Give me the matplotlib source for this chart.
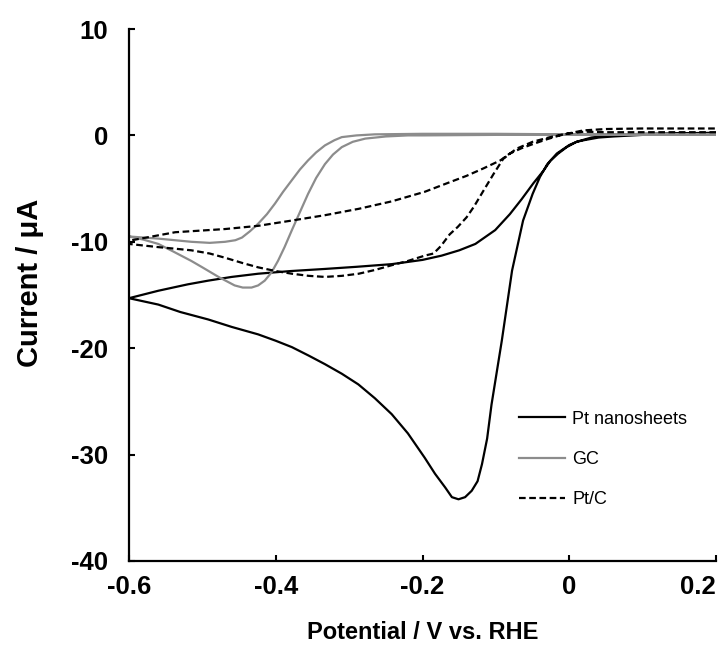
import matplotlib
matplotlib.use("Agg")
import matplotlib.pyplot as plt

plt.rcParams['font.family'] = ['Liberation Sans', 'DejaVu Sans']
plt.rcParams['axes.unicode_minus'] = False

# Pt nanosheets: cathodic sweep (0.2 -> -0.6) then anodic sweep back
pt_ns_v = [0.2, 0.15, 0.1, 0.06, 0.04, 0.02, 0.01, 0.0, -0.017, -0.03, -0.04, -0.05,
           -0.063, -0.078, -0.092, -0.106, -0.112, -0.119, -0.125, -0.133, -0.142,
           -0.151, -0.16, -0.169, -0.183, -0.197, -0.22, -0.242, -0.265, -0.2875,
           -0.31, -0.333, -0.355, -0.378, -0.40, -0.424, -0.46, -0.492, -0.53, -0.56,
           -0.6,
           -0.56, -0.52, -0.492, -0.46, -0.424, -0.38, -0.333, -0.29, -0.242, -0.2,
           -0.174, -0.15, -0.128, -0.101, -0.081, -0.065, -0.049, -0.035, -0.026,
           -0.015, -0.0035, 0.01, 0.03, 0.06, 0.1, 0.15, 0.2]
pt_ns_i = [0.2, 0.15, 0.05, -0.1, -0.2, -0.45, -0.6, -0.9, -1.7, -2.7, -3.9, -5.5,
           -8.0, -12.7, -19.3, -25.3, -28.5, -30.9, -32.5, -33.4, -34.0,
           -34.2, -34.0, -33.1, -31.8, -30.3, -28.0, -26.2, -24.7, -23.4,
           -22.4, -21.5, -20.7, -19.9, -19.3, -18.7, -18.0, -17.3, -16.6, -15.9,
           -15.3,
           -14.6, -14.0, -13.65, -13.3, -13.0, -12.75, -12.55, -12.35, -12.1, -11.7,
           -11.3, -10.8, -10.2, -8.9, -7.4, -6.0, -4.5, -3.3, -2.4,
           -1.7, -1.1, -0.6, -0.2, 0.05, 0.15, 0.2, 0.25]

# GC
gc_v = [0.2, 0.0, -0.1, -0.2, -0.22, -0.25, -0.278, -0.295, -0.31, -0.322, -0.333,
        -0.345, -0.356, -0.367, -0.378, -0.388, -0.397, -0.406, -0.415, -0.424,
        -0.433, -0.445, -0.456, -0.478, -0.5, -0.515, -0.54, -0.56, -0.58, -0.6,
        -0.56, -0.515, -0.49, -0.469, -0.455, -0.446, -0.435, -0.424, -0.412,
        -0.401, -0.39, -0.378, -0.367, -0.356, -0.345, -0.333, -0.32, -0.31,
        -0.29, -0.265, -0.2, -0.1, 0.0, 0.1, 0.2]
gc_i = [0.05, 0.05, 0.05, 0.0, 0.0, -0.1, -0.3, -0.6, -1.1, -1.8, -2.7,
        -4.0, -5.5, -7.2, -8.9, -10.5, -11.8, -12.9, -13.65, -14.1,
        -14.3, -14.3, -14.1, -13.3, -12.4, -11.8, -10.9, -10.2, -9.8, -9.5,
        -9.7, -10.0, -10.1, -10.0, -9.85, -9.6, -9.0, -8.3, -7.4,
        -6.4, -5.3, -4.2, -3.2, -2.35, -1.6, -0.94, -0.45, -0.16,
        0.0, 0.1, 0.15, 0.15, 0.1, 0.1, 0.1]

# Pt/C
ptc_v = [0.2, 0.15, 0.1, 0.05, 0.02, -0.0035, -0.026, -0.05, -0.072, -0.09, -0.103,
         -0.117, -0.13, -0.14, -0.152, -0.163, -0.175, -0.185, -0.197, -0.22,
         -0.242, -0.265, -0.287, -0.31, -0.333, -0.355, -0.378, -0.40, -0.424,
         -0.445, -0.469, -0.49, -0.515, -0.537, -0.56, -0.58, -0.6,
         -0.6, -0.537, -0.469, -0.424, -0.378, -0.333, -0.287, -0.242, -0.197,
         -0.163, -0.14, -0.117, -0.094, -0.081, -0.065, -0.049, -0.03, -0.013,
         0.0, 0.019, 0.05, 0.1, 0.15, 0.2]
ptc_i = [0.3, 0.3, 0.3, 0.3, 0.35, 0.16, -0.16, -0.6, -1.25, -2.2, -3.6,
         -5.2, -6.7, -7.7, -8.6, -9.3, -10.4, -11.1, -11.3, -11.8,
         -12.2, -12.65, -13.0, -13.2, -13.3, -13.2, -13.0, -12.75, -12.4,
         -12.0, -11.5, -11.1, -10.8, -10.65, -10.5, -10.35, -10.2,
         -9.9, -9.1, -8.8, -8.5, -8.0, -7.5, -6.9, -6.2, -5.3,
         -4.4, -3.8, -3.1, -2.35, -1.7, -1.2, -0.8, -0.35, 0.0,
         0.2, 0.47, 0.6, 0.65, 0.65, 0.65]

x_ticks = [-0.6, -0.4, -0.2, 0, 0.2]
x_tick_labels = ['-0.6', '-0.4', '-0.2', '0', '0.2']
y_ticks = [-40, -30, -20, -10, 0, 10]

fig = plt.figure(figsize=(7.27, 6.49), dpi=100)
ax = fig.add_axes([0.1774, 0.1356, 0.8076, 0.8197])

ax.plot(pt_ns_v, pt_ns_i, color='black', lw=1.6, label='Pt nanosheets')
ax.plot(gc_v, gc_i, color='#8c8c8c', lw=1.6, label='GC')
ax.plot(ptc_v, ptc_i, color='black', lw=1.6, ls=(0, (3, 1.6)), label='Pt/C')

ax.set_xlim(-0.6, 0.2)
ax.set_ylim(-40, 10)
ax.set_xticks(x_ticks)
ax.set_xticklabels(x_tick_labels)
ax.set_yticks(y_ticks)

for s in ['top', 'right']:
    ax.spines[s].set_visible(False)
for s in ['left', 'bottom']:
    ax.spines[s].set_linewidth(1.6)

ax.tick_params(axis='both', direction='in', length=4, width=1.5, labelsize=18.5)
ax.tick_params(axis='y', pad=15)
ax.tick_params(axis='x', pad=10)
for lab in ax.get_xticklabels() + ax.get_yticklabels():
    lab.set_fontweight('bold')
ax.get_xticklabels()[-1].set_horizontalalignment('right')

ax.set_xlabel('Potential / V vs. RHE', fontsize=17, fontweight='bold', labelpad=16)
ax.set_ylabel('Current / μA', fontsize=21, fontweight='bold')
ax.yaxis.set_label_coords(-0.145, 0.523)

ax.legend(loc='upper left', bbox_to_anchor=(0.637, 0.313), frameon=False,
          fontsize=13, handlelength=2.55, handletextpad=0.4, labelspacing=1.28)

fig.savefig('out.png', dpi=100)
